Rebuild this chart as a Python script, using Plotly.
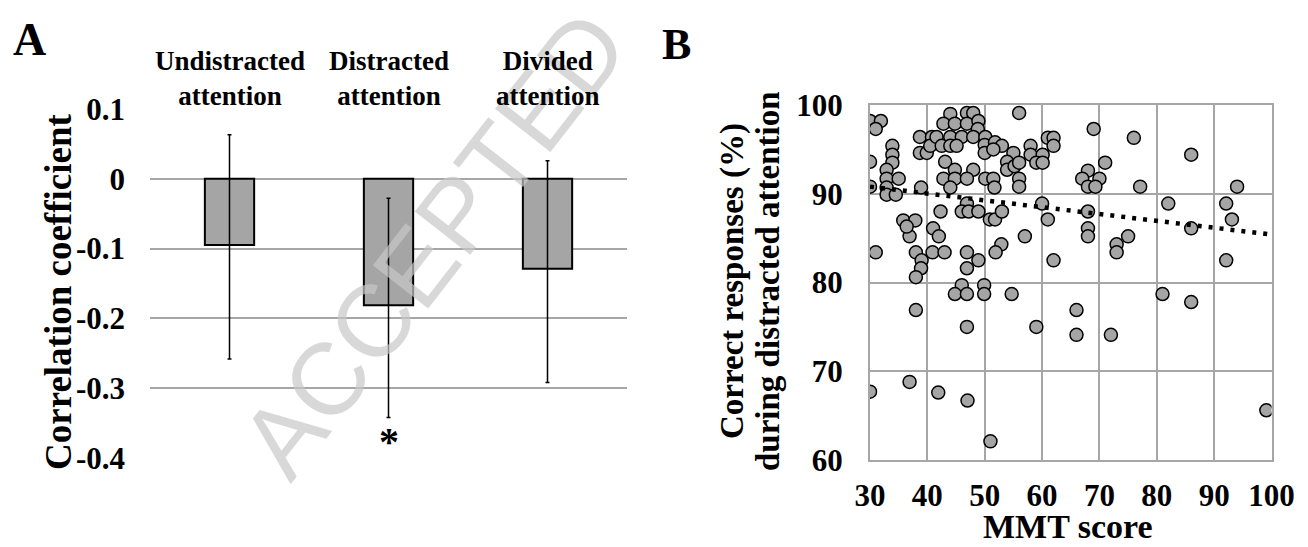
import plotly.graph_objects as go

# page body has an 8px margin, so the figure is sized to fit inside the window
OFF = 8
W, H = 1308 - 2 * OFF, 547 - 2 * OFF

# ---------------- Panel A data ----------------
categories = ["Undistracted<br>attention", "Distracted<br>attention", "Divided<br>attention"]
corr_values = [-0.095, -0.181, -0.129]
err_plus = [0.158, 0.153, 0.155]
err_minus = [0.163, 0.161, 0.163]
a_tickvals = [0.1, 0, -0.1, -0.2, -0.3, -0.4]
a_ticktext = ["0.1", "0", "-0.1", "-0.2", "-0.3", "-0.4"]
signif_index = 1
signif_y = -0.376

# ---------------- Panel B data ----------------
mmt_score = [30, 31.9, 31, 30, 30, 33.9, 33.9, 33.9, 32.9, 32.9, 32.9, 35, 32.9, 34.5,
             38.7, 40.8, 38.7, 39.9, 40.5, 38.9,
             44.0, 46.9, 48.0, 42.8, 44.8, 46.9, 48.9, 48.8, 41.6, 44.0, 46.0, 48.0,
             42.5, 44.0, 45.1, 50.1, 50.0, 51.8, 53.0, 50.0, 51.5, 55.0, 43.1, 44.8,
             48.0, 53.9, 53.9, 42.8, 44.8, 46.9, 50.1, 51.5, 44.0, 51.7, 55.2,
             56, 69, 76, 61, 62, 62, 58, 58, 60.1, 56, 59, 60.1, 86, 71, 68, 67, 70,
             68, 69.3, 56, 56, 77.1, 94, 60, 82, 92.1, 61, 68, 93.1, 57, 68, 68, 75,
             73, 73, 86, 62, 92.1, 54.7, 81, 86, 66, 59, 66, 72,
             30, 36.9, 41.9, 47.0, 51, 99.1,
             31.0, 38.0, 39.0, 38.9, 38, 40.9, 43.0, 46.9, 48.9, 46.9, 52.9, 51.9,
             46.0, 44.8, 46.9, 49.9, 49.9, 38, 46.9, 36.9, 41, 42, 35.8, 37.9, 36.4,
             42.3, 46.9, 46.0, 47.2, 48.9, 50.9, 51.8, 53.0]
correct_pct = [98.2, 98.2, 97.3, 93.6, 90.8, 95.4, 94.4, 93.5, 92.7, 91.7, 90.7, 91.7, 89.9, 89.9,
               96.4, 96.4, 94.6, 94.6, 95.4, 90.7,
               99.0, 99.1, 99.1, 97.9, 97.9, 97.9, 98.2, 97.3, 96.4, 96.4, 96.4, 96.4,
               95.4, 95.4, 95.4, 96.4, 95.5, 95.8, 95.4, 94.6, 95.0, 94.6, 93.6, 92.7,
               92.7, 93.6, 92.7, 91.7, 91.7, 91.7, 91.7, 91.7, 90.7, 90.7, 93.1,
               99.1, 97.3, 96.3, 96.3, 96.3, 95.4, 95.4, 94.4, 94.4, 93.5, 93.5, 93.5, 94.4, 93.5, 92.6, 91.7, 91.7,
               90.8, 90.8, 91.7, 90.8, 90.8, 90.8, 88.9, 88.9, 88.9, 87.1, 88.0, 87.1, 85.2, 86.1, 85.2, 85.2,
               84.3, 83.4, 86.1, 82.5, 82.5, 78.7, 78.7, 77.8, 76.9, 75.0, 74.1, 74.1,
               67.7, 68.8, 67.6, 66.7, 62.1, 65.6,
               83.4, 83.4, 82.5, 81.6, 80.6, 83.4, 83.4, 83.4, 82.5, 81.6, 84.3, 83.4,
               79.7, 78.7, 78.7, 79.7, 78.7, 76.9, 75.0, 85.2, 86.1, 85.2, 87.0, 87.0, 86.3,
               88.0, 88.9, 88.0, 88.0, 88.0, 87.1, 87.1, 88.0]
trend_x = [30, 100]
trend_y = [90.8, 85.4]
b_xticks = [30, 40, 50, 60, 70, 80, 90, 100]
b_yticks = [60, 70, 80, 90, 100]

SERIF = "Liberation Serif"
GRID = "#a6a6a6"
BAR = "#a5a5a5"


def px(xs):
    return (xs - OFF) / W


def py(ys):
    return 1 - (ys - OFF) / H


fig = go.Figure()

fig.add_trace(go.Bar(
    x=list(range(len(corr_values))), y=corr_values, width=0.31,
    marker=dict(color=BAR, line=dict(color="black", width=2)),
    error_y=dict(type="data", symmetric=False, array=err_plus, arrayminus=err_minus,
                 color="black", thickness=1.5, width=2),
    xaxis="x", yaxis="y", showlegend=False, hoverinfo="skip"))

fig.add_trace(go.Scatter(
    x=mmt_score, y=correct_pct, mode="markers",
    marker=dict(size=13, color=BAR, line=dict(color="black", width=1.5)),
    xaxis="x2", yaxis="y2", showlegend=False))

fig.add_trace(go.Scatter(
    x=trend_x, y=trend_y, mode="lines",
    line=dict(color="black", width=4.5, dash="4px,7px"),
    xaxis="x2", yaxis="y2", showlegend=False))

tickfont = dict(family=SERIF, size=31, color="black", weight="bold")

fig.update_layout(
    template="none",
    width=W, height=H, margin=dict(l=0, r=0, t=0, b=0, pad=0, autoexpand=False),
    paper_bgcolor="white", plot_bgcolor="white",
    xaxis=dict(domain=[px(150), px(627)], range=[-0.5, 2.5], showticklabels=False,
               showgrid=False, zeroline=False, showline=False, ticks="", automargin=False),
    yaxis=dict(domain=[py(458), py(109)], range=[-0.4, 0.1], tickvals=a_tickvals,
               ticktext=a_ticktext, showgrid=True, gridcolor=GRID, gridwidth=2, ticks="",
               zeroline=False, showline=False, tickfont=tickfont, ticklabelstandoff=24,
               automargin=False),
    xaxis2=dict(domain=[px(870), px(1271.5)], range=[30, 100], tickvals=b_xticks,
                anchor="y2", showgrid=True, gridcolor=GRID, gridwidth=2, zeroline=False,
                showline=True, mirror=True, linecolor=GRID, linewidth=2, ticks="",
                tickfont=tickfont, ticklabelstandoff=7, automargin=False),
    yaxis2=dict(domain=[py(460), py(105)], range=[60, 100], tickvals=b_yticks,
                anchor="x2", showgrid=True, gridcolor=GRID, gridwidth=2, zeroline=False,
                showline=True, mirror=True, linecolor=GRID, linewidth=2, ticks="",
                tickfont=tickfont, ticklabelstandoff=19, automargin=False),
)


def note(text, xs, ys, size, angle=0, family=SERIF, color="black", weight="bold"):
    return dict(text=text, x=px(xs), y=py(ys), xref="paper", yref="paper",
                xanchor="center", yanchor="middle", showarrow=False, textangle=angle,
                font=dict(family=family, size=size, color=color, weight=weight))


ann = []
ann.append(note("ACCEPTED", 434, 244, 102, angle=-52, family="Liberation Sans",
                color="rgba(200,200,200,0.7)", weight="normal"))
ann.append(note("A", 29, 40, 46))
ann.append(note("B", 676, 44, 44))
for i, c in enumerate(categories):
    ann.append(dict(text=c, x=i, y=py(78), xref="x", yref="paper", showarrow=False,
                    xanchor="center", yanchor="middle",
                    font=dict(family=SERIF, size=27, color="black", weight="bold")))
ann.append(dict(text="*", x=signif_index, y=signif_y, xref="x", yref="y", showarrow=False,
                xanchor="center", yanchor="middle",
                font=dict(family=SERIF, size=40, color="black", weight="bold")))
ann.append(note("Correlation coefficient", 58, 292, 37, angle=-90))
ann.append(note("Correct responses (%)", 732, 281, 33, angle=-90))
ann.append(note("during distracted attention", 768, 281, 33, angle=-90))
ann.append(note("MMT score", 1068, 526, 34))
fig.update_layout(annotations=ann)

fig.write_html("out.html")
